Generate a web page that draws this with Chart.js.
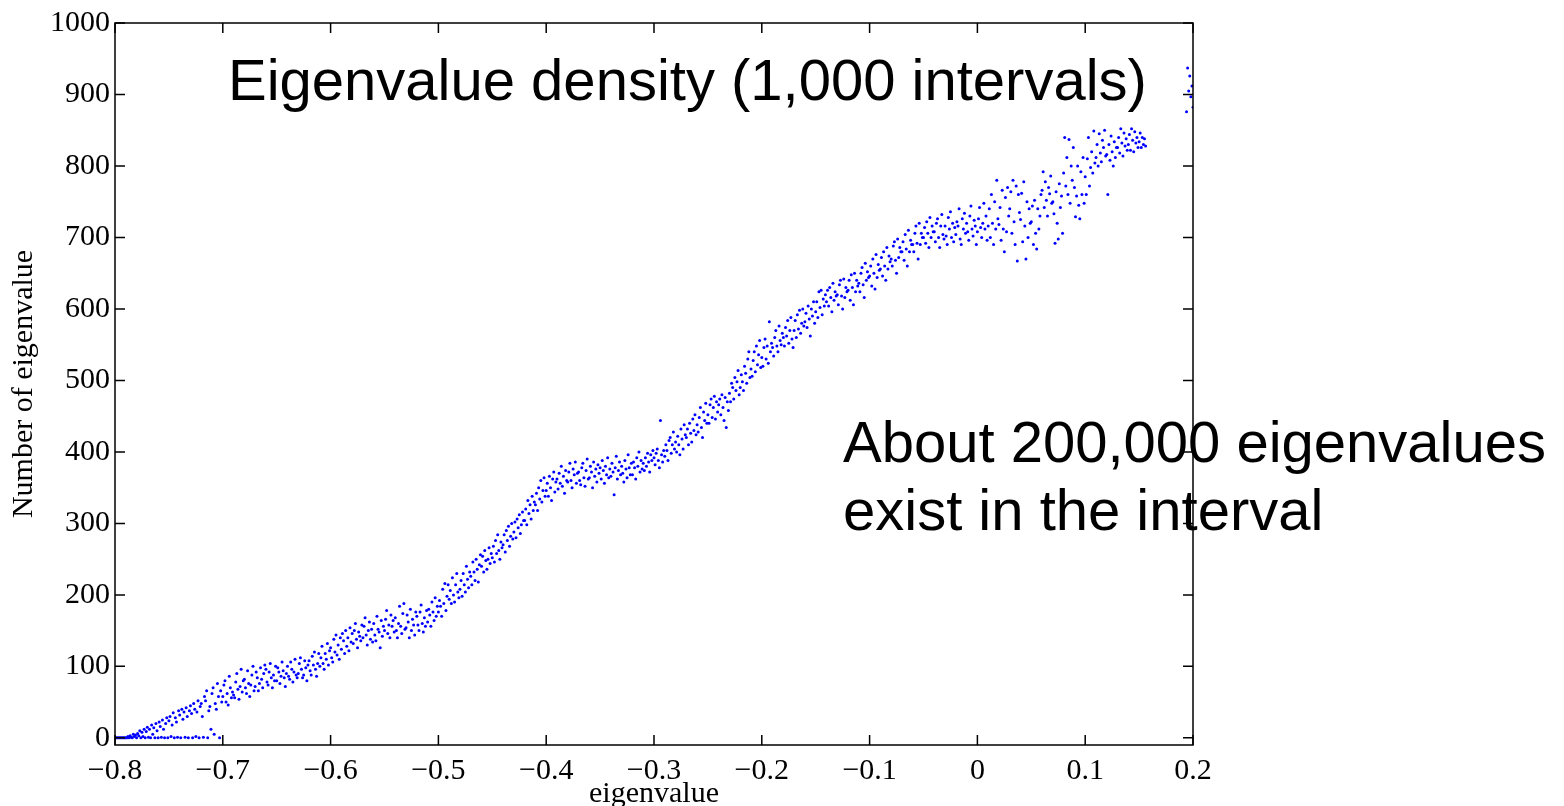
<!DOCTYPE html>
<html>
<head>
<meta charset="utf-8">
<script src="https://cdn.jsdelivr.net/npm/chart.js@4.4.1/dist/chart.umd.min.js"></script>
<style>
  html, body { margin: 0; padding: 0; background: #fff; }
  #wrap { width: 1564px; height: 806px; }
</style>
</head>
<body>
<div id="wrap"><canvas id="eigChart" width="1564" height="806"></canvas></div>
<script>
// --- data: eigenvalue counts per interval (width 0.001) ---
const xStart = -0.8;
const xStep = 0.001;
const countsMain = [
  0,0,0,0,0,0,0,0,0,0,
  0,0,2,0,3,1,0,5,2,4,
  0,6,3,10,0,8,2,12,0,9,
  15,1,12,0,18,5,14,0,20,10,
  0,22,16,1,25,12,0,20,28,0,
  24,30,2,18,35,0,28,22,1,38,
  32,0,40,26,36,1,42,30,0,38,
  45,34,0,48,40,2,36,52,0,44,
  48,30,1,58,52,66,0,38,44,12,
  62,70,5,48,40,76,58,0,66,50,
  58,74,80,50,62,46,86,70,56,64,
  60,56,78,90,68,54,72,96,64,80,
  82,70,62,94,76,58,74,88,100,66,
  72,92,84,66,76,98,82,70,90,102,
  96,78,74,92,104,84,70,88,80,100,
  80,98,92,76,86,106,94,84,72,90,
  100,86,82,106,96,78,92,110,88,84,
  90,104,112,96,84,88,108,98,80,102,
  108,94,88,114,102,120,96,86,104,118,
  100,112,128,104,96,118,110,132,102,122,
  126,112,106,138,120,144,116,130,110,140,
  124,146,136,118,150,128,140,122,154,134,
  146,132,150,160,138,126,148,142,136,158,
  140,156,168,144,130,150,162,138,152,134,
  160,144,136,170,152,148,126,164,142,156,
  150,166,178,146,158,140,172,156,164,148,
  168,150,140,160,184,156,146,174,188,152,
  154,172,162,140,180,150,166,158,144,176,
  170,158,150,176,186,160,148,168,156,178,
  162,180,172,156,190,176,164,196,170,184,
  176,192,184,170,208,188,216,178,198,214,
  194,206,188,224,200,190,214,230,204,196,
  208,220,198,230,214,204,240,222,210,232,
  226,214,246,232,220,250,236,218,242,256,
  240,254,232,262,248,236,250,266,244,258,
  252,268,246,276,258,284,262,250,274,266,
  270,284,260,290,276,296,268,282,300,278,
  288,302,280,306,294,312,286,298,316,304,
  304,320,298,332,314,326,306,338,318,330,
  326,342,318,350,334,360,330,346,364,338,
  346,356,338,366,350,332,362,372,344,358,
  362,348,370,356,380,352,366,342,374,360,
  358,372,384,360,350,376,368,386,356,370,
  372,360,354,378,384,364,352,374,390,362,
  364,380,372,350,386,366,376,358,382,370,
  378,362,388,374,356,380,368,392,364,376,
  366,384,372,340,378,394,362,374,386,368,
  380,370,358,388,376,364,396,378,368,384,
  368,386,378,362,392,380,400,372,388,376,
  384,374,392,380,398,386,372,396,388,402,
  392,382,398,404,388,378,444,396,386,402,
  394,410,402,388,416,420,398,410,428,404,
  414,400,422,410,396,432,418,404,438,424,
  420,432,410,440,426,414,446,430,452,424,
  438,428,448,462,434,420,456,444,468,440,
  452,440,466,474,448,462,478,446,470,456,
  466,474,452,480,462,444,476,434,470,458,
  482,470,496,490,474,504,486,498,514,480,
  490,508,498,486,520,510,496,530,540,504,
  516,506,528,540,512,548,522,536,556,518,
  532,520,546,558,530,548,524,582,540,552,
  546,534,560,570,548,540,576,556,550,566,
  560,548,574,562,584,552,570,588,558,546,
  570,584,560,592,572,598,566,580,600,576,
  582,594,574,604,586,562,600,590,610,580,
  596,610,588,624,602,626,592,614,604,620,
  610,626,604,630,616,596,636,612,624,618,
  620,606,634,640,618,600,642,616,630,624,
  626,640,612,648,630,606,650,624,640,632,
  636,624,650,658,634,616,664,640,652,644,
  646,660,632,670,650,628,676,644,662,654,
  656,672,646,680,660,640,686,656,674,666,
  670,660,688,694,668,650,698,672,686,680,
  680,694,668,704,684,660,710,680,696,690,
  690,680,706,716,692,670,720,690,706,700,
  700,714,692,722,706,686,728,700,716,708,
  708,694,720,726,700,686,716,732,704,698,
  716,702,690,728,712,736,700,720,694,714,
  704,722,716,740,698,690,726,712,734,706,
  720,708,696,730,744,712,702,724,716,690,
  708,726,742,714,700,720,748,712,730,696,
  716,740,700,760,720,690,750,712,780,726,
  718,742,696,766,712,680,756,708,770,730,
  740,764,706,780,722,690,772,667,760,735,
  725,762,694,778,716,670,750,700,740,720,
  722,744,690,752,706,684,740,712,730,760,
  766,792,742,778,752,730,770,761,786,748,
  750,733,692,764,720,698,775,742,758,706,
  790,840,772,812,760,837,748,800,780,826,
  770,729,758,800,745,726,792,760,812,748,
  785,760,810,840,772,798,820,790,849,804,
  812,830,800,845,818,806,836,826,850,814,
  816,760,830,808,842,820,800,834,812,826,
  826,840,818,852,832,814,846,828,838,822,
  830,844,822,852,836,820,848,832,840,826,
  834,846,826,840,830,838,828
];
// the few points visible at the right edge of the axes
const edgeX = [0.194, 0.195, 0.196, 0.197, 0.198, 0.199, 0.200];
const edgeCounts = [876, 937, 905, 926, 897, 912, 882];

const xTicks = [-0.8, -0.7, -0.6, -0.5, -0.4, -0.3, -0.2, -0.1, 0, 0.1, 0.2];
const xTickLabels = ['\u22120.8', '\u22120.7', '\u22120.6', '\u22120.5', '\u22120.4', '\u22120.3',
                     '\u22120.2', '\u22120.1', '0', '0.1', '0.2'];
const yTicks = [0, 100, 200, 300, 400, 500, 600, 700, 800, 900, 1000];

const titleText = 'Eigenvalue density (1,000 intervals)';
const noteLines = ['About 200,000 eigenvalues', 'exist in the interval'];

const points = countsMain.map((c, i) => ({ x: Math.round((xStart + i * xStep) * 1000) / 1000, y: c }));
edgeX.forEach((x, i) => points.push({ x: x, y: edgeCounts[i] }));

const serif = '"Liberation Serif", "Times New Roman", serif';
const sans = '"Liberation Sans", Arial, sans-serif';

// inward ticks on all four sides + box frame + overlaid texts
const frameAndText = {
  id: 'frameAndText',
  afterDraw(chart) {
    const { ctx, chartArea: a, scales } = chart;
    ctx.save();
    ctx.strokeStyle = '#000';
    ctx.lineWidth = 1.5;
    ctx.strokeRect(a.left, a.top, a.right - a.left, a.bottom - a.top);
    const len = 10;
    ctx.beginPath();
    xTicks.forEach(v => {
      const px = scales.x.getPixelForValue(v);
      ctx.moveTo(px, a.bottom); ctx.lineTo(px, a.bottom - len);
      ctx.moveTo(px, a.top); ctx.lineTo(px, a.top + len);
    });
    yTicks.forEach(v => {
      const py = scales.y.getPixelForValue(v);
      ctx.moveTo(a.left, py); ctx.lineTo(a.left + len, py);
      ctx.moveTo(a.right, py); ctx.lineTo(a.right - len, py);
    });
    ctx.stroke();

    ctx.fillStyle = '#000';
    ctx.font = '58px ' + sans;
    ctx.textAlign = 'left';
    ctx.textBaseline = 'alphabetic';
    ctx.fillText(titleText, 228, 100);
    ctx.fillText(noteLines[0], 843, 462);
    ctx.fillText(noteLines[1], 843, 530);
    ctx.restore();
  }
};

new Chart(document.getElementById('eigChart').getContext('2d'), {
  type: 'scatter',
  data: {
    datasets: [{
      data: points,
      backgroundColor: '#0000ff',
      borderWidth: 0,
      pointRadius: 1.5,
      pointHoverRadius: 1.5
    }]
  },
  options: {
    responsive: false,
    animation: false,
    layout: { padding: { left: 0, right: 371, top: 20, bottom: 0 } },
    plugins: {
      legend: { display: false },
      tooltip: { enabled: false }
    },
    scales: {
      x: {
        type: 'linear',
        min: -0.8,
        max: 0.2,
        afterBuildTicks: s => { s.ticks = xTicks.map(v => ({ value: v })); },
        afterFit: s => { s.height = 61; },
        grid: { display: false, drawTicks: false },
        border: { display: false },
        ticks: {
          color: '#000',
          padding: 8,
          maxRotation: 0,
          autoSkip: false,
          font: { family: serif, size: 30 },
          callback: (v, i) => xTickLabels[i]
        },
        title: {
          display: true,
          text: 'eigenvalue',
          color: '#000',
          font: { family: serif, size: 30, lineHeight: 0.8 },
          padding: { top: 0, bottom: 0 }
        }
      },
      y: {
        min: -10,
        max: 1000,
        afterBuildTicks: s => { s.ticks = yTicks.map(v => ({ value: v })); },
        afterFit: s => { s.width = 115; },
        grid: { display: false, drawTicks: false },
        border: { display: false },
        ticks: {
          color: '#000',
          padding: 5,
          font: { family: serif, size: 30 },
          callback: v => String(v)
        },
        title: {
          display: true,
          text: 'Number of eigenvalue',
          color: '#000',
          font: { family: serif, size: 30, lineHeight: 1 },
          padding: { top: 9, bottom: 0 }
        }
      }
    }
  },
  plugins: [frameAndText]
});
</script>
</body>
</html>
